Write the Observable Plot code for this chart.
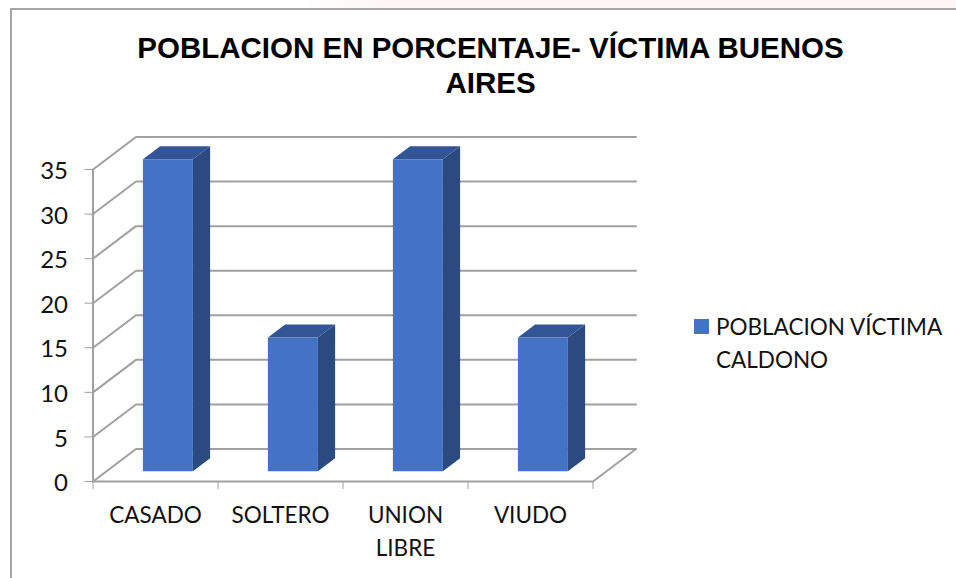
<!DOCTYPE html>
<html><head><meta charset="utf-8">
<script src="https://cdn.jsdelivr.net/npm/d3@7"></script>
<script src="https://cdn.jsdelivr.net/npm/@observablehq/plot@0.6"></script>
<style>
html,body{margin:0;padding:0;background:#fff;width:956px;height:578px;overflow:hidden}
#page{position:relative;width:956px;height:578px;overflow:hidden}
#strip{position:absolute;left:300px;top:0;width:656px;height:8px;background:linear-gradient(to right,#fff,#fdf6f5 12%)}
#frame{position:absolute;left:10px;top:8px;width:960px;height:600px;border:2px solid #a6a6a6}
#title{position:absolute;left:0;top:30px;width:981px;text-align:center;font:bold 29.5px/35px "Liberation Sans",Arial,sans-serif;color:#000}
#legend{position:absolute;left:694px;top:310px;font:22.5px/33px Lato,sans-serif;color:#111}
#legend i{position:absolute;left:0;top:9px;width:15px;height:15px;background:#4472c4}
#legend span{display:block;margin-left:22px;white-space:nowrap}
svg{position:absolute;left:0;top:0}
</style></head><body>
<div id="page"><div id="strip"></div><div id="frame"></div>
<div id="title">POBLACION EN PORCENTAJE- VÍCTIMA BUENOS<br>AIRES</div>
<div id="legend"><i></i><span>POBLACION VÍCTIMA<br>CALDONO</span></div>
</div>
<script>
const categories = ["CASADO","SOLTERO","UNION\nLIBRE","VIUDO"];
const values = [35,15,35,15];
const yTicks = [0,5,10,15,20,25,30,35];
const xBreaks = [0,1,2,3,4];
const depthX = 0.344, depthY = 3.646;   // floor depth in data units
const px = (x,d) => x + d*depthX, py = (y,d) => y + d*depthY;
const near = 0.3, far = 0.7, barL = 0.3, barR = 0.7;
const gray = "#a0a0a0";

const grid = yTicks.flatMap(v => [
  {v, x:0, y:v},
  {v, x:px(0,1), y:py(v,1)},
  {v, x:px(4,1), y:py(v,1)}
]);
const floorEdge = [{x:0,y:0},{x:4,y:0},{x:px(4,1),y:py(0,1)}];
const bars = values.map((v,i)=>({i,v,x1:px(i+barL,near),x2:px(i+barR,near),y1:py(0,near),y2:py(v,near)}));
const side = bars.flatMap(b => {
  const dx = (far-near)*depthX, dy = (far-near)*depthY;
  return [{i:b.i,x:b.x2,y1:b.y1,y2:b.y2},{i:b.i,x:b.x2+dx,y1:b.y1+dy,y2:b.y2+dy}];
});
const top_ = bars.flatMap(b => {
  const dx = (far-near)*depthX, dy = (far-near)*depthY;
  return [{i:b.i,y:b.y2,x1:b.x1,x2:b.x2},{i:b.i,y:b.y2+dy,x1:b.x1+dx,x2:b.x2+dx}];
});

const chart = Plot.plot({
  width:956, height:578,
  marginLeft:92.5, marginRight:956-592.5, marginTop:169, marginBottom:578-481,
  style:{background:"transparent",fontFamily:"Lato,sans-serif",overflow:"visible"},
  x:{type:"linear",domain:[0,4]},
  y:{type:"linear",domain:[0,35]},
  marks:[
    Plot.line(grid,{x:"x",y:"y",z:"v",stroke:gray,strokeWidth:2}),
    Plot.line(floorEdge,{x:"x",y:"y",stroke:gray,strokeWidth:2}),
    Plot.ruleX([0],{y1:0,y2:35,stroke:gray,strokeWidth:2}),
    Plot.axisY({ticks:yTicks,tickSize:8,tickPadding:17,stroke:gray,fontSize:24,color:"#111",label:null}),
    Plot.axisX({ticks:xBreaks,tickSize:8,stroke:gray,tickFormat:()=>"",label:null}),
    Plot.text(categories,{x:(d,i)=>i+0.5,y:0,text:d=>d,dy:18,lineAnchor:"top",lineHeight:1.48,fontSize:22.5,fill:"#111",textAnchor:"middle"}),
    Plot.areaY(side,{x:"x",y1:"y1",y2:"y2",z:"i",fill:"#2a4a80"}),
    Plot.areaX(top_,{y:"y",x1:"x1",x2:"x2",z:"i",fill:"#325595"}),
    Plot.rect(bars,{x1:"x1",x2:"x2",y1:"y1",y2:"y2",fill:"#4472c4"})
  ]
});
document.getElementById("page").appendChild(chart);
// nudge the y tick labels down to match the reference baseline
chart.querySelectorAll('[aria-label="y-axis tick label"] text').forEach(t => {
  const a = t.getAttribute("transform") || "";
  t.setAttribute("transform", a + " translate(0,2)");
});
</script>
</body></html>
